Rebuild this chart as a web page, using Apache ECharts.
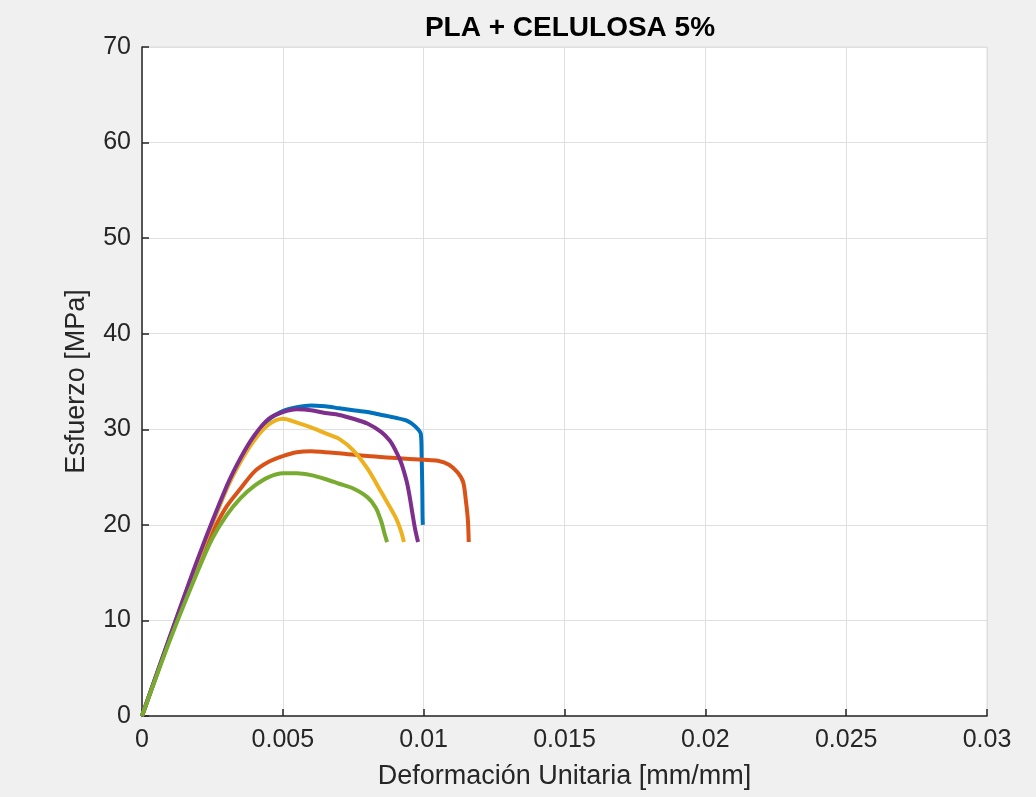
<!DOCTYPE html>
<html>
<head>
<meta charset="utf-8">
<script src="https://cdn.jsdelivr.net/npm/echarts@6/dist/echarts.min.js"></script>
<style>
html,body{margin:0;padding:0;background:#f0f0f0;}
#chart{width:1036px;height:797px;}
</style>
</head>
<body>
<div id="chart"></div>
<script>
// Strain [mm/mm], stress [MPa] pairs
var sample1 = [[0,0],[0.001,8.3],[0.002,16.4],[0.003,23.8],[0.0035,26.8],[0.004,29.2],[0.0045,31.0],[0.005,31.9],[0.0055,32.3],[0.006,32.5],[0.0065,32.4],[0.007,32.2],[0.0075,32.0],[0.008,31.8],[0.0085,31.5],[0.009,31.2],[0.0094,30.9],[0.0097,30.3],[0.0099,29.5],[0.00993,27.0],[0.00995,24.0],[0.00996,21.0],[0.00997,20.0]];
var sample2 = [[0,0],[0.001,8.2],[0.002,15.8],[0.0025,19.2],[0.003,21.9],[0.0035,23.8],[0.004,25.6],[0.0045,26.6],[0.005,27.2],[0.0055,27.6],[0.006,27.7],[0.0065,27.6],[0.007,27.5],[0.008,27.2],[0.009,27.0],[0.01,26.8],[0.0105,26.7],[0.0109,26.3],[0.0112,25.5],[0.0114,24.5],[0.0115,22.5],[0.01157,20.5],[0.0116,18.2]];
var sample3 = [[0,0],[0.001,8.3],[0.002,16.4],[0.003,23.7],[0.0035,26.6],[0.004,28.9],[0.0045,30.5],[0.005,31.1],[0.0055,30.7],[0.006,30.2],[0.0065,29.6],[0.007,29.0],[0.0075,27.8],[0.008,25.9],[0.0085,23.4],[0.009,20.8],[0.0092,19.3],[0.0093,18.2]];
var sample4 = [[0,0],[0.001,8.4],[0.002,16.6],[0.003,24.0],[0.0035,27.0],[0.004,29.4],[0.0045,31.1],[0.005,31.8],[0.0055,32.1],[0.006,32.0],[0.0065,31.7],[0.007,31.5],[0.0075,31.1],[0.008,30.6],[0.0085,29.7],[0.0088,28.8],[0.009,27.8],[0.0092,26.5],[0.0094,24.5],[0.0095,23.0],[0.0096,21.2],[0.0097,19.5],[0.0098,18.2]];
var sample5 = [[0,0],[0.001,8.0],[0.002,15.3],[0.0025,18.6],[0.003,21.0],[0.0035,22.8],[0.004,24.1],[0.0045,25.0],[0.005,25.4],[0.0055,25.4],[0.006,25.2],[0.0065,24.8],[0.007,24.3],[0.0075,23.8],[0.008,22.9],[0.0083,21.8],[0.0085,20.3],[0.0086,19.2],[0.0087,18.2]];
var seriesData = [sample1, sample2, sample3, sample4, sample5];
var seriesColors = ['#0072BD','#D95319','#EDB120','#7E2F8E','#77AC30'];

var chart = echarts.init(document.getElementById('chart'), null, {renderer:'canvas'});
var FONT = 'Liberation Sans, Arial, Helvetica, sans-serif';
var axisCol = '#262626';

var option = {
  backgroundColor: '#f0f0f0',
  animation: false,
  title: {
    text: 'PLA + CELULOSA 5%',
    left: 565, top: 9,
    textAlign: 'center',
    textStyle: {fontFamily: FONT, fontSize: 28, fontWeight: 'bold', color: '#000'}
  },
  grid: {
    left: 142, right: 49, top: 47, bottom: 81,
    show: true, backgroundColor: '#ffffff', borderColor: '#dcdcdc', borderWidth: 1
  },
  xAxis: {
    type: 'value', min: 0, max: 0.03, interval: 0.005,
    name: 'Deformación Unitaria [mm/mm]', nameLocation: 'middle', nameGap: 47,
    nameTextStyle: {fontFamily: FONT, fontSize: 27, color: axisCol},
    axisLine: {show: true, onZero: false, lineStyle: {color: axisCol, width: 1.5}},
    axisTick: {show: true, inside: true, length: 7, lineStyle: {color: axisCol, width: 1.5}},
    axisLabel: {fontFamily: FONT, fontSize: 25, color: axisCol, margin: 12,
      formatter: function(v){ return String(parseFloat(v.toFixed(4))); }},
    splitLine: {show: true, lineStyle: {color: '#dfdfdf', width: 1}}
  },
  yAxis: {
    type: 'value', min: 0, max: 70, interval: 10,
    name: 'Esfuerzo [MPa]', nameLocation: 'middle', nameGap: 52,
    nameTextStyle: {fontFamily: FONT, fontSize: 27, color: axisCol},
    axisLine: {show: true, onZero: false, lineStyle: {color: axisCol, width: 1.5}},
    axisTick: {show: true, inside: true, length: 7, lineStyle: {color: axisCol, width: 1.5}},
    axisLabel: {fontFamily: FONT, fontSize: 25, color: axisCol, margin: 11},
    splitLine: {show: true, lineStyle: {color: '#dfdfdf', width: 1}}
  },
  series: seriesData.map(function(d, i){
    return {
      type: 'line', data: d, showSymbol: false, symbol: 'none',
      smooth: 0.3, smoothMonotone: 'none',
      lineStyle: {color: seriesColors[i], width: 4},
      itemStyle: {color: seriesColors[i]},
      z: 2 + i
    };
  })
};
chart.setOption(option);
</script>
</body>
</html>
